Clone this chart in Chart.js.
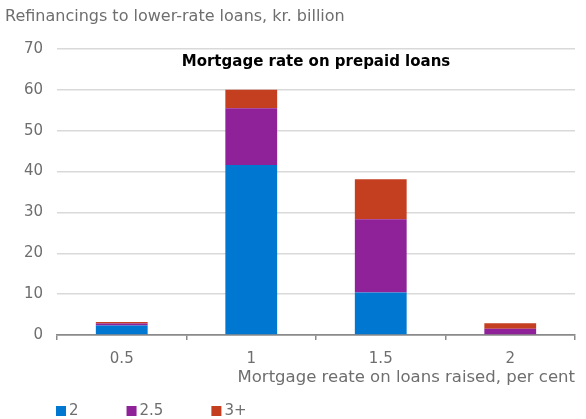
<!DOCTYPE html>
<html>
<head>
<meta charset="utf-8">
<script src="https://cdn.jsdelivr.net/npm/chart.js@4"></script>
<style>
html,body{margin:0;padding:0;background:#fff;}
#wrap{width:586px;height:419px;position:relative;}
</style>
</head>
<body>
<div id="wrap"><canvas id="c" width="586" height="419"></canvas></div>
<script>
const categories = ['0.5', '1', '1.5', '2'];
const seriesNames = ['2', '2.5', '3+'];
const values2 = [2.3, 41.6, 10.4, 0];
const values25 = [0.5, 13.9, 17.9, 1.5];
const values3 = [0.4, 4.5, 9.8, 1.4];
const yTicks = [0, 10, 20, 30, 40, 50, 60, 70];
const topText = 'Refinancings to lower-rate loans, kr. billion';
const innerTitle = 'Mortgage rate on prepaid loans';
const xTitle = 'Mortgage reate on loans raised, per cent';

const FONT = '"DejaVu Sans", sans-serif';
const GRAY = '#6e6e6e';
const colors = ['#0078d2', '#8f2199', '#c43e20'];

const textPlugin = {
  id: 'extraText',
  afterDraw(chart) {
    const ctx = chart.ctx;
    const ca = chart.chartArea;
    ctx.save();
    // top-left text
    ctx.font = '16px ' + FONT;
    ctx.fillStyle = GRAY;
    ctx.textAlign = 'left';
    ctx.textBaseline = 'middle';
    ctx.fillText(topText, 5, 17);
    // inner bold title
    ctx.font = 'bold 15px ' + FONT;
    ctx.fillStyle = '#000';
    ctx.textAlign = 'center';
    ctx.fillText(innerTitle, (ca.left + ca.right) / 2, ca.top + 13);
    // legend
    ctx.font = '15px ' + FONT;
    ctx.textAlign = 'left';
    let x = ca.left - 1;
    const y = 411;
    chart.data.datasets.forEach(ds => {
      ctx.fillStyle = ds.backgroundColor;
      ctx.fillRect(x, y - 5, 10, 10);
      ctx.fillStyle = GRAY;
      ctx.fillText(ds.label, x + 13, y);
      x += 13 + ctx.measureText(ds.label).width + 48;
    });
    ctx.restore();
  }
};

new Chart(document.getElementById('c'), {
  type: 'bar',
  data: {
    labels: categories,
    datasets: [
      { label: seriesNames[0], data: values2, backgroundColor: colors[0] },
      { label: seriesNames[1], data: values25, backgroundColor: colors[1] },
      { label: seriesNames[2], data: values3, backgroundColor: colors[2] }
    ]
  },
  options: {
    responsive: false,
    animation: false,
    layout: { padding: { top: 49, right: 11, left: 0, bottom: 0 } },
    datasets: { bar: { categoryPercentage: 1, barPercentage: 0.4, borderWidth: 0 } },
    plugins: { legend: { display: false }, title: { display: false }, tooltip: { enabled: false } },
    scales: {
      x: {
        stacked: true,
        offset: true,
        grid: { drawOnChartArea: false, drawTicks: true, tickLength: 5, color: '#8a8a8a', lineWidth: 1.5, offset: true },
        border: { display: true, color: '#8a8a8a', width: 1.5 },
        ticks: { color: GRAY, font: { family: FONT, size: 15 }, padding: 10 },
        title: { display: true, text: xTitle, align: 'end', color: GRAY, font: { family: FONT, size: 16.5 }, padding: { top: 0, bottom: 31 } },
        afterFit(scale) { scale.height = 84; }
      },
      y: {
        stacked: true,
        min: 0,
        max: 70,
        afterBuildTicks(scale) { scale.ticks = yTicks.map(v => ({ value: v })); },
        grid: {
          drawTicks: false,
          lineWidth: 1.5,
          color: ctx => (ctx.tick && ctx.tick.value === 0) ? '#8a8a8a' : '#d9d9d9'
        },
        border: { display: false },
        ticks: { color: GRAY, font: { family: FONT, size: 15 }, padding: 14 },
        afterFit(scale) { scale.width = 57; }
      }
    }
  },
  plugins: [textPlugin]
});
</script>
</body>
</html>
